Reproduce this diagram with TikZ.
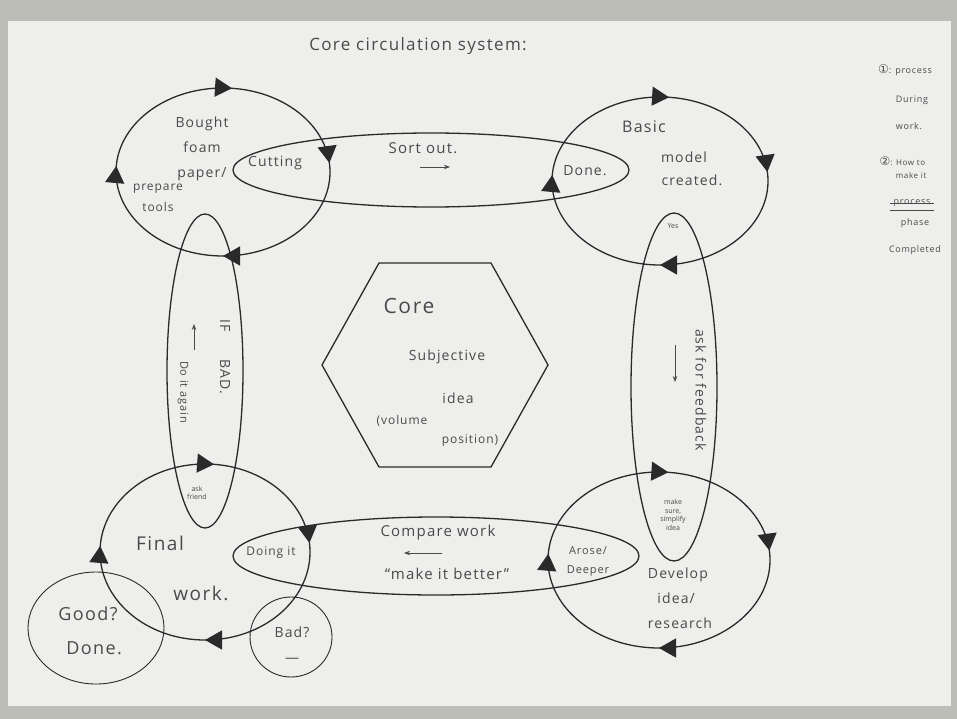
\documentclass[tikz,border=0pt]{standalone}
\usepackage{fontspec}
\setmainfont{Open Sans}
\newfontfamily\handfont[LetterSpace=8]{Open Sans}
\newfontfamily\symfont{DejaVu Sans}
\usetikzlibrary{arrows.meta,decorations.markings}
\definecolor{desk}{HTML}{BDBDB8}
\definecolor{paper}{HTML}{EEEEEC}
\definecolor{inkgray}{HTML}{2A2A2A}
\definecolor{pencil}{HTML}{4A4A4A}

\begin{document}
\begin{tikzpicture}[x=1pt,y=-1pt,
    ink/.style={draw=inkgray,line width=1.3pt},
    loopring/.style={ink,postaction={decorate},decoration={markings,
        mark=at position .25 with {\arrow{Triangle[length=17pt,width=19pt]}},
        mark=at position .51 with {\arrow{Triangle[length=17pt,width=19pt]}},
        mark=at position .765 with {\arrow{Triangle[length=17pt,width=19pt]}},
        mark=at position .985 with {\arrow{Triangle[length=17pt,width=19pt]}}}},
    hand/.style={text=pencil,font=\handfont\fontsize{14}{25}\selectfont,align=center},
    bighand/.style={text=pencil,font=\handfont\fontsize{19}{24}\selectfont},
    smalltxt/.style={text=pencil,font=\fontsize{7}{8.5}\selectfont,align=center},
    legend/.style={text=pencil,font=\handfont\fontsize{9}{27}\selectfont,align=left},
    pointer/.style={draw=pencil,line width=.8pt,-{Stealth[length=6pt]}}]
    % sheet of paper
    \fill[desk] (0,0) rectangle (957,719);
    \fill[paper] (8,21) rectangle (951,706);
    \node[hand,font=\handfont\fontsize{17}{20}\selectfont] (title) at (418,46) {Core circulation system:};

    % four phases
    \draw[loopring] (223,172) ellipse [x radius=107, y radius=84];
    \draw[loopring] (660,181) ellipse [x radius=108, y radius=84];
    \draw[loopring] (659,560) ellipse [x radius=111, y radius=88];
    \draw[loopring] (205,552) ellipse [x radius=105, y radius=88];

    % links between the phases
    \draw[ink] (431,170) ellipse [x radius=198, y radius=37];
    \draw[ink] (674,387) ellipse [x radius=43, y radius=174];
    \draw[ink] (436,556) ellipse [x radius=203, y radius=39];
    \draw[ink] (205,371) ellipse [x radius=38, y radius=157];

    % outcome circles
    \draw[ink,line width=.9pt] (96,628) ellipse [x radius=68, y radius=56];
    \draw[ink,line width=.9pt] (291,637) ellipse [x radius=41, y radius=40];

    % core
    \draw[ink] (322,365) -- (379,263) -- (491,263) -- (548,365) -- (491,467) -- (379,467) -- cycle;
    \node[bighand,font=\handfont\fontsize{21}{24}\selectfont] (core) at (409,306) {Core};
    \node[hand] (subj) at (447,357) {Subjective};
    \node[hand] (idea) at (458,398) {idea};
    \node[hand,font=\handfont\fontsize{12}{14}\selectfont] (volume) at (402,421) {(volume};
    \node[hand,font=\handfont\fontsize{12}{14}\selectfont] (position) at (470,441) {position)};

    % top left: preparing
    \node[hand] (bought) at (202,149) {Bought\\foam\\paper/};
    \node[hand,font=\handfont\fontsize{12}{21}\selectfont] (tools) at (158,198) {prepare\\tools};
    \node[hand] (cutting) at (275,163) {Cutting};

    % top link
    \node[hand,font=\handfont\fontsize{15}{18}\selectfont] (sortout) at (423,148) {Sort out.};
    \coordinate (so1) at (420,167);
    \coordinate (so2) at (450,167);
    \draw[pointer] (so1) -- (so2);
    \node[hand] (done) at (585,171) {Done.};

    % top right: model
    \node[hand,font=\handfont\fontsize{16}{18}\selectfont] (basic) at (644,127) {Basic};
    \node[hand] (model) at (684,157) {model};
    \node[hand] (created) at (692,180) {created.};

    % right link
    \node[smalltxt] (yes) at (673,226) {Yes};
    \node[hand,rotate=-90] (askfb) at (701,390) {ask for feedback};
    \coordinate (af1) at (675,345);
    \coordinate (af2) at (675,382);
    \draw[pointer] (af1) -- (af2);
    \node[smalltxt] (makesure) at (673,515) {make\\sure,\\simplify\\idea};

    % bottom right: develop
    \node[hand,align=left] (develop) at (680,598) {Develop\\\ \ idea/\\research};

    % bottom link
    \node[hand,font=\handfont\fontsize{15}{18}\selectfont] (compare) at (438,533) {Compare work};
    \coordinate (cw1) at (442,553);
    \coordinate (cw2) at (404,553);
    \draw[pointer] (cw1) -- (cw2);
    \node[hand,font=\handfont\fontsize{15}{18}\selectfont] (better) at (447,574) {“make it better”};
    \node[hand,font=\handfont\fontsize{12}{14}\selectfont] (doing) at (271,553) {Doing it};
    \node[hand,font=\handfont\fontsize{11}{19}\selectfont] (arose) at (588,561) {Arose/\\Deeper};

    % bottom left: final work
    \node[bighand] (final) at (160,543) {Final};
    \node[bighand] (work) at (201,593) {work.};
    \node[smalltxt] (askfr) at (197,493) {ask\\friend};
    \node[bighand,align=center,font=\handfont\fontsize{18}{34}\selectfont] (good) at (88,631) {Good?\\\ \ Done.};
    \node[hand] (bad) at (292,645) {Bad?\\—};

    % left link
    \node[hand,rotate=-90] (ifbad) at (225,357) {IF\qquad BAD.};
    \node[hand,rotate=-90,font=\handfont\fontsize{11}{12}\selectfont] (again) at (183,392) {Do it again};
    \coordinate (da1) at (194,350);
    \coordinate (da2) at (194,324);
    \draw[pointer] (da1) -- (da2);

    % key
    \node[legend] (key1) at (905,70) {{\symfont\fontsize{12}{12}\selectfont ①}: process};
    \node[legend] (key1b) at (912,113) {During\\work.};
    \node[legend,font=\handfont\fontsize{8}{13}\selectfont] (key2) at (903,168) {{\symfont\fontsize{12}{12}\selectfont ②}: How to\\\ \ \ \ \ \ make it};
    \node[legend] (struck) at (912,203) {process};
    \draw[draw=pencil,line width=.7pt] (struck.west) -- (struck.east);
    \draw[draw=pencil,line width=.7pt] (struck.south west) -- (struck.south east);
    \node[legend,align=center,font=\handfont\fontsize{9}{27}\selectfont] (phase) at (915,237) {phase\\Completed};
\end{tikzpicture}
\end{document}
